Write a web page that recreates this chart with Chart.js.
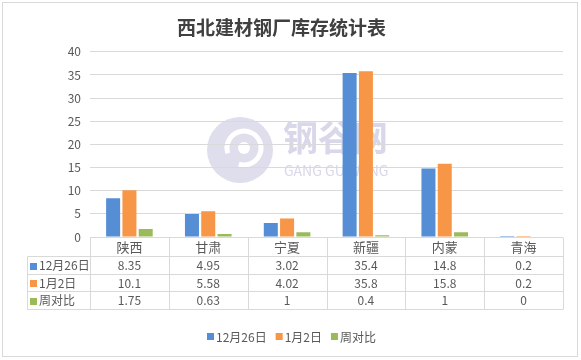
<!DOCTYPE html>
<html><head><meta charset="utf-8">
<script src="https://cdn.jsdelivr.net/npm/chart.js@4.4.0/dist/chart.umd.min.js"></script>
<style>html,body{margin:0;padding:0;background:#fff;}#wrap{width:581px;height:360px;position:relative}</style>
</head><body><div id="wrap"><canvas id="c" width="581" height="360"></canvas></div>
<script>
const categories = ['陕西','甘肃','宁夏','新疆','内蒙','青海'];
const seriesNames = ['12月26日','1月2日','周对比'];
const dec26 = [8.35, 4.95, 3.02, 35.4, 14.8, 0.2];
const jan2 = [10.1, 5.58, 4.02, 35.8, 15.8, 0.2];
const weekly = [1.75, 0.63, 1, 0.4, 1, 0];
const tableText = [
  ['8.35','4.95','3.02','35.4','14.8','0.2'],
  ['10.1','5.58','4.02','35.8','15.8','0.2'],
  ['1.75','0.63','1','0.4','1','0']
];
const yMin = 0, yMax = 40, yStep = 5;
const colors = ['#558ed5','#f79646','#9bbb59'];
const FONT = "'Noto Sans CJK SC','Noto Sans',sans-serif";
const TXT = '#595959', LINE = '#d9d9d9';

const watermark = {
  id: 'watermark',
  beforeDraw(chart) {
    const ctx = chart.ctx;
    ctx.save();
    ctx.fillStyle = '#fff';
    ctx.fillRect(0, 0, chart.width, chart.height);
    ctx.strokeStyle = LINE; ctx.lineWidth = 1;
    ctx.strokeRect(2.5, 2.5, 575, 354);
    const cx = 240, cy = 150;
    ctx.fillStyle = '#dedeec';
    ctx.beginPath(); ctx.arc(cx, cy, 33, 0, Math.PI * 2); ctx.fill();
    ctx.strokeStyle = '#ffffff'; ctx.lineWidth = 5;
    ctx.beginPath(); ctx.arc(cx + 4, cy - 2, 17, Math.PI * 0.9, Math.PI * 2.6); ctx.stroke();
    ctx.fillStyle = '#ffffff';
    ctx.beginPath(); ctx.arc(cx + 4, cy - 2, 6, 0, Math.PI * 2); ctx.fill();
    ctx.fillStyle = '#d8d8ea';
    ctx.textBaseline = 'middle'; ctx.textAlign = 'left';
    ctx.font = "bold 35px " + FONT;
    ctx.fillText('钢谷网', 283, 138);
    ctx.font = "14px " + FONT;
    ctx.fillText('GANG GU WANG', 284, 171);
    ctx.restore();
  }
};

const dataTable = {
  id: 'dataTable',
  afterDraw(chart) {
    const ctx = chart.ctx, ca = chart.chartArea, xs = chart.scales.x;
    const colW = (ca.right - ca.left) / categories.length;
    const top = Math.round(ca.bottom) + 0.5;
    const headerH = 19, rowH = 17.7;
    const left = 27.5;
    const ry = i => Math.round(top + headerH + i * rowH - 0.5) + 0.5;
    const bottom = ry(3);
    ctx.save();
    ctx.strokeStyle = LINE; ctx.lineWidth = 1;
    const line = (x1, y1, x2, y2) => { ctx.beginPath(); ctx.moveTo(x1, y1); ctx.lineTo(x2, y2); ctx.stroke(); };
    line(ca.left, top, ca.right, top);
    for (let i = 0; i <= 3; i++) line(left, ry(i), ca.right, ry(i));
    line(left, ry(0), left, bottom);
    for (let j = 0; j <= categories.length; j++) {
      const xj = Math.round(xs.getPixelForValue(0) - colW / 2 + j * colW) + 0.5;
      line(xj, top, xj, bottom);
    }
    ctx.fillStyle = TXT; ctx.textAlign = 'center'; ctx.textBaseline = 'middle';
    ctx.font = "13px " + FONT;
    categories.forEach((c, i) => ctx.fillText(c, xs.getPixelForValue(i), top + headerH / 2));
    ctx.font = "12px " + FONT;
    tableText.forEach((row, r) => {
      const yc = (ry(r) + ry(r + 1)) / 2;
      row.forEach((v, i) => ctx.fillText(v, xs.getPixelForValue(i), yc));
      ctx.fillStyle = colors[r];
      ctx.fillRect(30, Math.round(yc) - 3, 7, 7);
      ctx.fillStyle = TXT;
      ctx.textAlign = 'left';
      ctx.fillText(seriesNames[r], 39, yc);
      ctx.textAlign = 'center';
    });
    // legend
    const ly = 337, box = 7, gapBox = 2, gapItem = 9;
    const widths = seriesNames.map(s => box + gapBox + ctx.measureText(s).width);
    const total = widths.reduce((a, b) => a + b, 0) + gapItem * (seriesNames.length - 1);
    let lx = Math.round(291 - total / 2);
    ctx.textAlign = 'left';
    seriesNames.forEach((s, i) => {
      ctx.fillStyle = colors[i];
      ctx.fillRect(lx, ly - 4, box, box);
      ctx.fillStyle = TXT;
      ctx.fillText(s, lx + box + gapBox, ly);
      lx += widths[i] + gapItem;
    });
    ctx.restore();
  }
};

const mk = (i, d) => ({
  label: seriesNames[i], data: d, backgroundColor: colors[i],
  categoryPercentage: 0.62, barPercentage: 0.86
});

new Chart(document.getElementById('c'), {
  type: 'bar',
  data: { labels: categories, datasets: [mk(0, dec26), mk(1, jan2), mk(2, weekly)] },
  options: {
    responsive: false, animation: false, devicePixelRatio: 1,
    layout: { padding: { left: 0, right: 18, top: 0, bottom: 37 } },
    plugins: {
      title: { display: true, text: '西北建材钢厂库存统计表', color: '#404040',
        font: { family: FONT, size: 19, weight: 'bold' }, padding: { top: 16, bottom: 13 } },
      legend: { display: false },
      tooltip: { enabled: false }
    },
    scales: {
      x: { ticks: { display: false }, grid: { display: false }, border: { display: false },
        afterFit(s) { s.height = 86; } },
      y: { min: yMin, max: yMax,
        ticks: { stepSize: yStep, color: TXT, padding: 9, font: { family: FONT, size: 12 } },
        grid: { color: LINE, drawTicks: false }, border: { display: false },
        afterFit(s) { s.width = 90; } }
    }
  },
  plugins: [watermark, dataTable]
});
</script></body></html>
